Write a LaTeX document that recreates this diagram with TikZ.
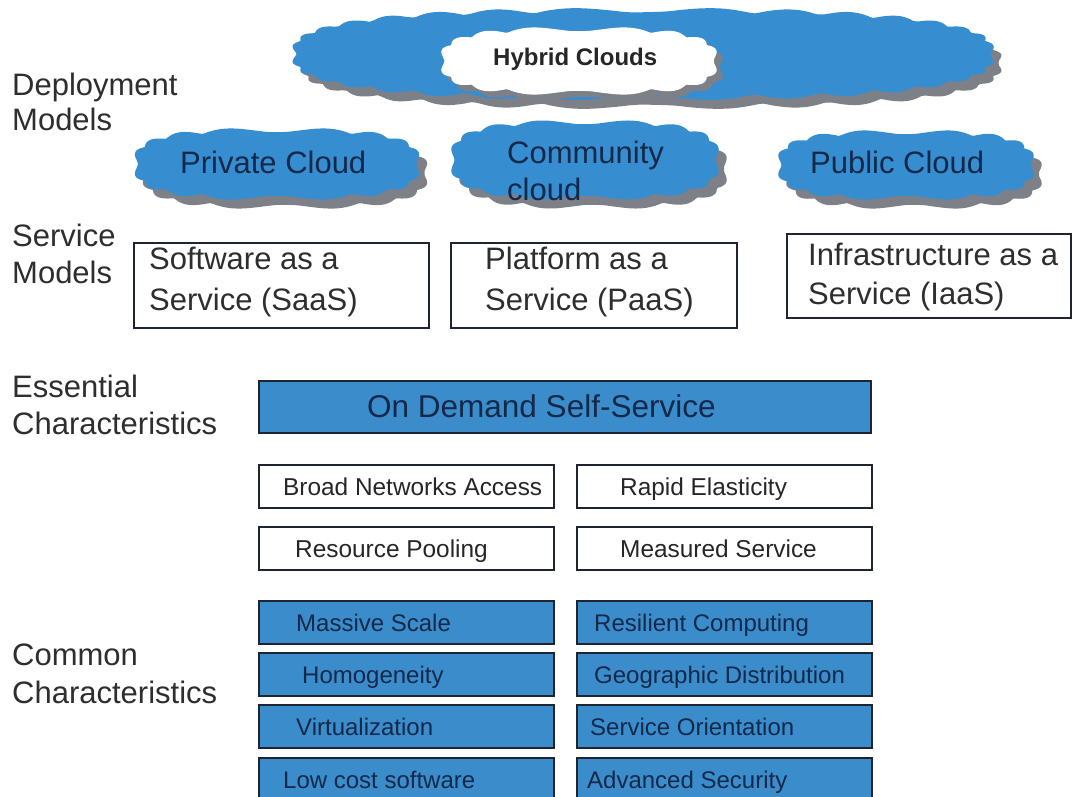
\documentclass[tikz,border=0pt]{standalone}
\usepackage{fontspec}
\setmainfont{Liberation Sans}
\definecolor{cblue}{HTML}{368DD0}
\definecolor{bblue}{HTML}{3A8CCB}
\definecolor{shadowgrey}{HTML}{7E8088}
\definecolor{navy}{HTML}{14294A}
\definecolor{labelgrey}{HTML}{2E2E2E}
\definecolor{boxline}{HTML}{1E2430}
% cloud blob: cx, cy, width, height, fill colour, bump count/2, bump size, shape exponent (negative)
\newcommand{\cloudblob}[8]{%
  \fill[#5] plot[smooth cycle, domain=1:359, samples=241, variable=\t]
   ({#1+(#3/2-#7)*cos(\t)*abs(cos(\t))^(#8)+#7*cos(\t)*abs(sin(#6*\t))},
    {#2+(#4/2-#7)*sin(\t)*abs(sin(\t))^(#8)+#7*sin(\t)*abs(sin(#6*\t))});}
\begin{document}
\begin{tikzpicture}[x=1pt,y=-1pt,
  lbl/.style={anchor=base west, inner sep=0pt, text=labelgrey, font=\fontsize{31}{36}\selectfont},
  cloudtxt/.style={anchor=base west, inner sep=0pt, text=navy, font=\fontsize{31}{36}\selectfont},
  svctxt/.style={anchor=base west, inner sep=0pt, text=labelgrey, font=\fontsize{31}{36}\selectfont},
  svcbox/.style={draw=boxline, line width=1.5pt, fill=white, anchor=north west, inner sep=0pt},
  wbox/.style={draw=boxline, line width=1.5pt, fill=white, anchor=north west, inner sep=0pt, minimum width=295pt, minimum height=43pt},
  bbox/.style={draw=boxline, line width=2pt, fill=bblue, anchor=north west, inner sep=0pt, minimum width=295pt, minimum height=43pt},
  wtxt/.style={anchor=base west, inner sep=0pt, text=black!85, font=\fontsize{24.4}{28}\selectfont},
  btxt/.style={anchor=base west, inner sep=0pt, text=navy, font=\fontsize{24}{28}\selectfont}
]
\useasboundingbox (0,0) rectangle (1073,796);
\fill[white] (0,0) rectangle (1073,796);

% Hybrid clouds
\cloudblob{651}{63}{703}{92}{shadowgrey}{16}{5}{-0.3}
\cloudblob{643}{54}{703}{92}{cblue}{16}{5}{-0.3}
\cloudblob{585}{67}{278}{68}{shadowgrey}{8}{4.5}{-0.35}
\cloudblob{579}{61}{278}{68}{white}{8}{4.5}{-0.35}
\node[anchor=base west, inner sep=0pt, text=black!85, font=\bfseries\fontsize{24}{28}\selectfont] (hybt) at (493,65) {Hybrid Clouds};

% Deployment clouds
\cloudblob{285}{173}{287}{72}{shadowgrey}{8}{4.5}{-0.35}
\cloudblob{277}{164}{287}{72}{cblue}{8}{4.5}{-0.35}
\node[cloudtxt] (privt) at (180,173) {Private Cloud};

\cloudblob{593}{169}{270}{80}{shadowgrey}{8}{4.5}{-0.35}
\cloudblob{585}{160}{270}{80}{cblue}{8}{4.5}{-0.35}
\node[cloudtxt] (commt1) at (507,163) {Community};
\node[cloudtxt] (commt2) at (507,200) {cloud};

\cloudblob{914}{174}{258}{70}{shadowgrey}{8}{4.5}{-0.35}
\cloudblob{906}{165}{258}{70}{cblue}{8}{4.5}{-0.35}
\node[cloudtxt] (pubt) at (810,173) {Public Cloud};

% Row labels
\node[lbl] (dep1) at (12,95) {Deployment};
\node[lbl] (dep2) at (12,130) {Models};
\node[lbl] (srv1) at (12,246) {Service};
\node[lbl] (srv2) at (12,283) {Models};
\node[lbl] (ess1) at (12,397) {Essential};
\node[lbl] (ess2) at (12,434) {Characteristics};
\node[lbl] (com1) at (12,665) {Common};
\node[lbl] (com2) at (12,703) {Characteristics};

% Service models
\node[svcbox, minimum width=295pt, minimum height=85pt] (saas) at (133,242) {};
\node[svctxt] (saas1) at (149,269) {Software as a};
\node[svctxt] (saas2) at (149,310) {Service (SaaS)};
\node[svcbox, minimum width=286pt, minimum height=85pt] (paas) at (450,242) {};
\node[svctxt] (paas1) at (485,269) {Platform as a};
\node[svctxt] (paas2) at (485,310) {Service (PaaS)};
\node[svcbox, minimum width=284pt, minimum height=84pt] (iaas) at (786,233) {};
\node[svctxt] (iaas1) at (808,265) {Infrastructure as a};
\node[svctxt] (iaas2) at (808,304) {Service (IaaS)};

% Essential characteristics
\node[bbox, minimum width=612pt, minimum height=52pt] (ond) at (258,380) {};
\node[anchor=base west, inner sep=0pt, text=navy, font=\fontsize{31.5}{36}\selectfont] (ondt) at (367,417) {On Demand Self-Service};

\node[wbox] (bna) at (258,464) {};
\node[wtxt] (bnat) at (283,495) {Broad Networks Access};
\node[wbox] (rel) at (576,464) {};
\node[wtxt] (relt) at (620,495) {Rapid Elasticity};
\node[wbox] (rpo) at (258,526) {};
\node[wtxt] (rpot) at (295,557) {Resource Pooling};
\node[wbox] (mse) at (576,526) {};
\node[wtxt] (mset) at (620,557) {Measured Service};

% Common characteristics
\node[bbox] (mas) at (258,600) {};
\node[btxt] (mast) at (296,631) {Massive Scale};
\node[bbox] (res) at (576,600) {};
\node[btxt] (rest) at (594,631) {Resilient Computing};
\node[bbox] (hom) at (258,652) {};
\node[btxt] (homt) at (302,683) {Homogeneity};
\node[bbox] (geo) at (576,652) {};
\node[btxt] (geot) at (594,683) {Geographic Distribution};
\node[bbox] (vir) at (258,704) {};
\node[btxt] (virt) at (296,735) {Virtualization};
\node[bbox] (sor) at (576,704) {};
\node[btxt] (sort) at (590,735) {Service Orientation};
\node[bbox] (low) at (258,757) {};
\node[btxt] (lowt) at (283,788) {Low cost software};
\node[bbox] (adv) at (576,757) {};
\node[btxt] (advt) at (587,788) {Advanced Security};
\end{tikzpicture}
\end{document}
